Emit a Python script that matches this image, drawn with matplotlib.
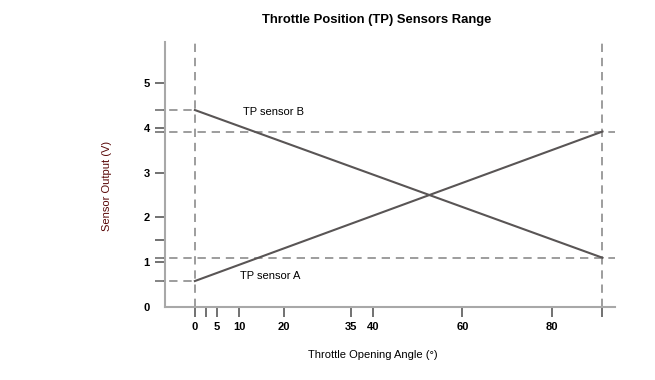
import matplotlib
matplotlib.use('Agg')
import matplotlib.pyplot as plt

plt.rcParams['font.family'] = ['Liberation Sans', 'DejaVu Sans']

# Sensor data (angle in degrees, output in volts)
angle = [0, 91.4]
sensor_a = [0.58, 3.92]
sensor_b = [4.4, 1.1]

x_ticks = [0, 2.5, 5, 10, 20, 35, 40, 60, 80, 91.4]
x_labels = ['0', '', '5', '10', '20', '35', '40', '60', '80', '']
y_ticks = [0, 0.58, 1, 1.1, 1.5, 2, 3, 3.92, 4, 4.4, 5]
y_labels = ['0', '', '1', '', '', '2', '3', '', '4', '', '5']

fig = plt.figure(figsize=(6.55, 3.8), dpi=100)
ax = fig.add_axes([0.2519, 0.1921, 0.687, 0.6974])

line_col = '#595555'
dash_col = '#8c8c8c'
ext = -9  # reference lines start a bit left of the y axis

# reference dashed lines
ax.plot([ext, angle[0]], [sensor_b[0]] * 2, color=dash_col, lw=1.2, dashes=(5, 3.5), clip_on=False)
ax.plot([ext, angle[0]], [sensor_a[0]] * 2, color=dash_col, lw=1.2, dashes=(5, 3.5), clip_on=False)
ax.plot([ext, 94.2], [sensor_a[1]] * 2, color=dash_col, lw=1.2, dashes=(5, 3.5), clip_on=False)
ax.plot([ext, 94.2], [sensor_b[1]] * 2, color=dash_col, lw=1.2, dashes=(5, 3.5), clip_on=False)
ax.axvline(angle[0], color=dash_col, lw=1.2, dashes=(5, 3.5))
ax.axvline(angle[1], color=dash_col, lw=1.2, dashes=(5, 3.5))

# sensor lines
ax.plot(angle, sensor_a, color=line_col, lw=1.5)
ax.plot(angle, sensor_b, color=line_col, lw=1.5)

ax.text(10.1, 0.69, 'TP sensor A', fontsize=8, va='center')
ax.text(10.8, 4.35, 'TP sensor B', fontsize=8, va='center')

ax.set_xlim(-6.7, 94.2)
ax.set_ylim(0, 5.92)

ax.set_xticks(x_ticks)
ax.set_xticklabels(x_labels, fontsize=8, fontweight='bold')
ax.set_yticks(y_ticks)
ax.set_yticklabels(y_labels, fontsize=8, fontweight='bold')
ax.tick_params(axis='both', length=7, width=1.3, color='#666666', direction='out')
ax.tick_params(axis='y', pad=4)
ax.tick_params(axis='x', pad=4)
ax.yaxis.get_major_ticks()[0].tick1line.set_visible(False)

for s in ['top', 'right']:
    ax.spines[s].set_visible(False)
for s in ['left', 'bottom']:
    ax.spines[s].set_color('#a8a8a8')
    ax.spines[s].set_linewidth(1.5)

fig.text(377 / 655, 1 - 20 / 380, 'Throttle Position (TP) Sensors Range',
         ha='center', va='center', fontsize=9.4, fontweight='bold')
fig.text(373 / 655, 1 - 355 / 380, 'Throttle Opening Angle (°)',
         ha='center', va='center', fontsize=8)
fig.text(107 / 655, 1 - 186 / 380, 'Sensor Output (V)', rotation=90,
         ha='center', va='center', fontsize=8, color='#5a0808')

fig.savefig('out.png', dpi=100)
